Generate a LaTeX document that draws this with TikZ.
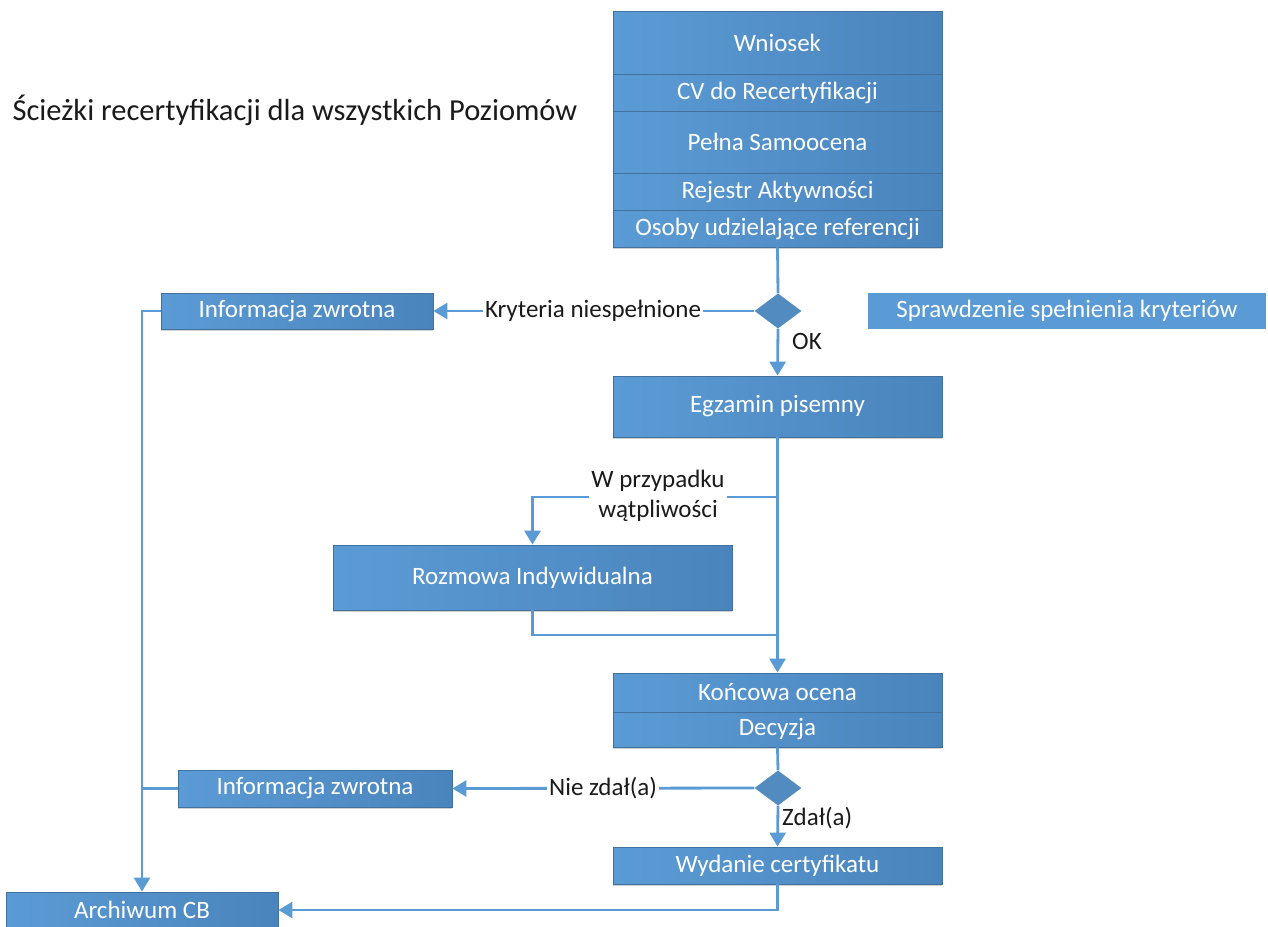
\documentclass[tikz,border=0pt]{standalone}
\usepackage{fontspec}
\setmainfont{Carlito}
\usetikzlibrary{arrows.meta,shapes.geometric,shadows}
\definecolor{boxlight}{HTML}{5B9BD5}
\definecolor{boxdark}{HTML}{4A84BC}
\definecolor{boxedge}{HTML}{41719C}
\definecolor{flow}{HTML}{5B9BD5}
\definecolor{labeltext}{HTML}{1A1A1A}
\begin{document}
\begin{tikzpicture}[x=1pt,y=-1pt,
  txt/.style={font=\fontsize{25}{30}\selectfont},
  stepbox/.style={txt,draw=boxedge,line width=0.8pt,left color=boxlight,right color=boxdark,
    text=white,inner sep=0pt,
    general shadow={fill=black,opacity=0.18,shadow yshift=-2pt}},
  flatbox/.style={txt,fill=boxlight,text=white,inner sep=0pt},
  gate/.style={diamond,fill=boxlight!90!black,draw=none,inner sep=0pt,
    minimum width=47pt,minimum height=35pt},
  conn/.style={draw=flow,line width=2.8pt},
  arr/.style={conn,-{Triangle[width=16pt,length=14pt]}},
  lbl/.style={txt,fill=white,text=labeltext,inner sep=2pt,align=center},
  side/.style={txt,text=labeltext,inner sep=0pt}
]
\useasboundingbox (0,0) rectangle (1268,926);

% title
\node[anchor=west,text=labeltext,font=\fontsize{30.5}{34}\selectfont] (title) at (9,110)
  {Ścieżki recertyfikacji dla wszystkich Poziomów};

% application documents stack
\node[stepbox,minimum width=329pt,minimum height=63pt] (wn) at (777.5,42.5) {Wniosek};
\node[stepbox,minimum width=329pt,minimum height=37pt] (cv) at (777.5,92.5) {CV do Recertyfikacji};
\node[stepbox,minimum width=329pt,minimum height=62pt] (sam) at (777.5,142) {Pełna Samoocena};
\node[stepbox,minimum width=329pt,minimum height=37pt] (rej) at (777.5,191.5) {Rejestr Aktywności};
\node[stepbox,minimum width=329pt,minimum height=37pt] (oso) at (777.5,228.5) {Osoby udzielające referencji};

% criteria check
\node[gate] (d1) at (778,311) {};
\node[flatbox,minimum width=398pt,minimum height=36pt] (spr) at (1067,311) {Sprawdzenie spełnienia kryteriów};
\node[stepbox,minimum width=272pt,minimum height=36pt] (info1) at (297,311) {Informacja zwrotna};

% examination
\node[stepbox,minimum width=329pt,minimum height=61pt] (egz) at (777.5,406.5) {Egzamin pisemny};
\node[stepbox,minimum width=399pt,minimum height=65pt] (roz) at (532.5,577.5) {Rozmowa Indywidualna};
\coordinate (split) at (778,497);
\coordinate (merge) at (778,635);

% final assessment
\node[stepbox,minimum width=329pt,minimum height=39pt] (konc) at (777.5,692.5) {Końcowa ocena};
\node[stepbox,minimum width=329pt,minimum height=35pt] (dec) at (777.5,729.5) {Decyzja};
\node[gate] (d2) at (778,788) {};
\node[stepbox,minimum width=274pt,minimum height=37pt] (info2) at (315,788.5) {Informacja zwrotna};
\node[stepbox,minimum width=329pt,minimum height=37pt] (wyd) at (777.5,865.5) {Wydanie certyfikatu};
\node[stepbox,minimum width=272pt,minimum height=36pt] (arch) at (142,910) {Archiwum CB};

% connectors
\draw[conn] (oso.south) -- (d1.north);
\draw[arr] (d1.south) -- (egz.north);
\node[side,anchor=west] (ok) at (792,341) {OK};
\draw[arr] (d1.west) -- (info1.east);
\node[lbl] (kn) at (593,311) {Kryteria niespełnione};
\draw[arr] (info1.west) -| (arch.north);

\draw[arr] (egz.south) -- (konc.north);
\draw[arr] (split) -| (roz.north);
\node[lbl] (wp) at (658,496) {W przypadku\\wątpliwości};
\draw[conn] (roz.south) |- (merge);

\draw[conn] (dec.south) -- (d2.north);
\draw[arr] (d2.west) -- (info2.east);
\node[lbl] (nz) at (603,788) {Nie zdał(a)};
\draw[conn] (info2.west) -- (info2.west -| arch.north);
\draw[arr] (d2.south) -- (wyd.north);
\node[side,anchor=west] (zd) at (782,818) {Zdał(a)};
\draw[arr] (wyd.south) |- (arch.east);
\end{tikzpicture}
\end{document}
